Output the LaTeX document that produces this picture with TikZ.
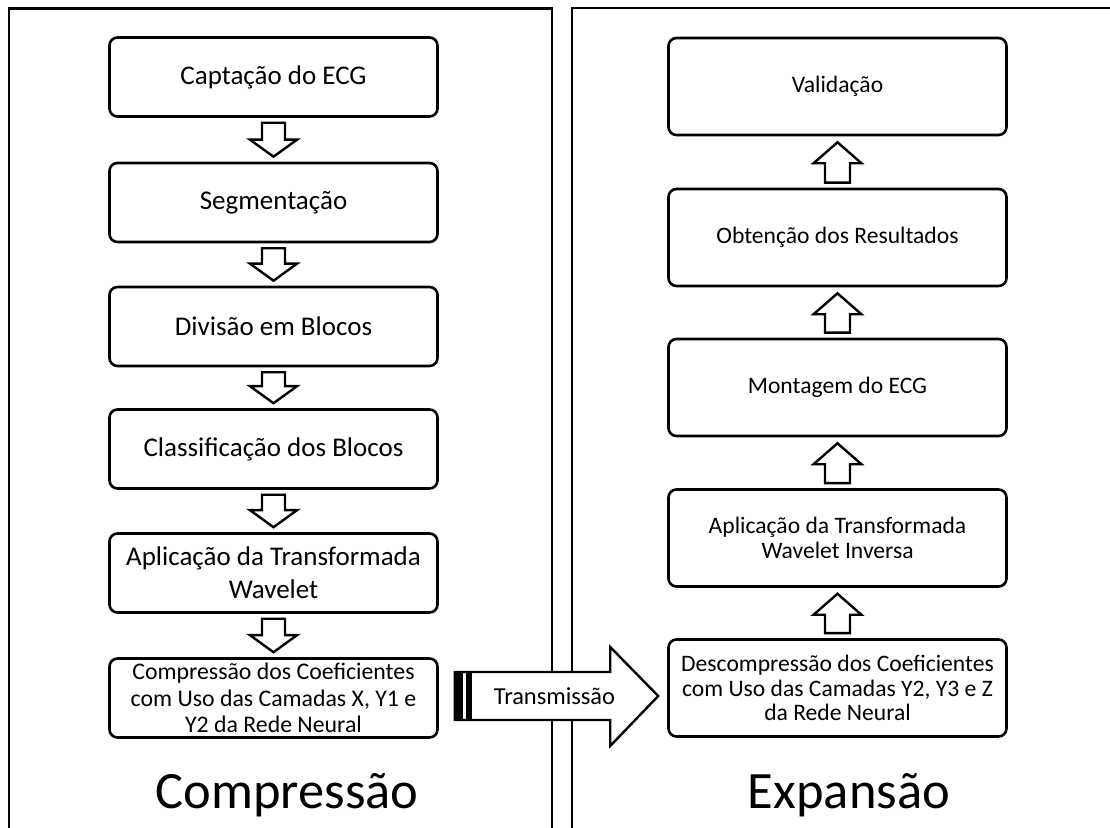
\documentclass[tikz,border=0pt]{standalone}
\usepackage{fontspec}
\setmainfont{Carlito}
\usetikzlibrary{calc, positioning}

\tikzset{
  stagebox/.style={draw, line width=2.6pt, rounded corners=8pt, align=center, inner sep=2pt},
  leftbox/.style={stagebox, minimum width=328pt, minimum height=79pt, font=\fontsize{27}{33}\selectfont},
  rightbox/.style={stagebox, minimum width=338pt, minimum height=97pt, font=\fontsize{23.6}{24.5}\selectfont},
  fat/.style={draw, fill=white, line width=2.4pt, line join=miter},
  panel/.style={line width=2.6pt},
}

% hollow block arrows between two stages
\newcommand{\downblock}[2]{%
  \draw[fat] ($(#1.south)+(-11.5,-5)$) -- ($(#2.north)+(-11.5,22)$) -- ($(#2.north)+(-23.5,22)$)
    -- ($(#2.north)+(0,5)$) -- ($(#2.north)+(23.5,22)$) -- ($(#2.north)+(11.5,22)$)
    -- ($(#1.south)+(11.5,-5)$) -- cycle;}
\newcommand{\upblock}[2]{%
  \draw[fat] ($(#1.north)+(-12.5,5)$) -- ($(#2.south)+(-12.5,-27)$) -- ($(#2.south)+(-24,-27)$)
    -- ($(#2.south)+(0,-6)$) -- ($(#2.south)+(24,-27)$) -- ($(#2.south)+(12.5,-27)$)
    -- ($(#1.north)+(12.5,5)$) -- cycle;}

\begin{document}
\begin{tikzpicture}[x=1pt, y=1pt]
  \useasboundingbox (0,0) rectangle (1110,827);

  % panels
  \draw[panel] (9,-5) -- (9,818.5) -- (552,818.5) -- (552,-5);
  \draw[panel] (572,-5) -- (572,819) -- (1115,819);

  % Compressao side
  \node[leftbox] (cap) at (273.5,750) {Captação do ECG};
  \node[leftbox] (seg) at (273.5,624.5) {Segmentação};
  \node[leftbox] (div) at (273.5,500.5) {Divisão em Blocos};
  \node[leftbox] (cls) at (273.5,378) {Classificação dos Blocos};
  \node[leftbox] (wav) at (273.5,254) {Aplicação da Transformada\\Wavelet};
  \node[leftbox, font=\fontsize{23.8}{26.5}\selectfont] (comp) at (273.5,129) {Compressão dos Coeficientes\\com Uso das Camadas X, Y1 e\\Y2 da Rede Neural};

  \downblock{cap}{seg}
  \downblock{seg}{div}
  \downblock{div}{cls}
  \downblock{cls}{wav}
  \downblock{wav}{comp}

  % Expansao side
  \node[rightbox] (val) at (837.5,740.5) {Validação};
  \node[rightbox] (res) at (837.5,589.5) {Obtenção dos Resultados};
  \node[rightbox] (mont) at (837.5,439.5) {Montagem do ECG};
  \node[rightbox] (inv) at (837.5,289) {Aplicação da Transformada\\Wavelet Inversa};
  \node[rightbox] (decomp) at (837.5,139) {Descompressão dos Coeficientes\\com Uso das Camadas Y2, Y3 e Z\\da Rede Neural};

  \upblock{decomp}{inv}
  \upblock{inv}{mont}
  \upblock{mont}{res}
  \upblock{res}{val}

  % transmission
  \coordinate (txtail) at ($(comp.east)+(16,2)$);
  \coordinate (txtip) at ($(decomp.west)+(-9,-8)$);
  \draw[fat] ($(txtail)+(0,24)$) -- ($(txtip)+(-48,24)$) -- ($(txtip)+(-48,49)$) -- (txtip)
    -- ($(txtip)+(-48,-50)$) -- ($(txtip)+(-48,-24)$) -- ($(txtail)+(0,-24)$) -- cycle;
  \fill ($(txtail)+(0,-24)$) rectangle ($(txtail)+(8,24)$);
  \fill ($(txtail)+(11.5,-24)$) rectangle ($(txtail)+(17,24)$);
  \node[font=\fontsize{24.4}{29}\selectfont] (tx) at ($(txtail)!0.49!(txtip)$) {Transmissão};

  % titles
  \node[font=\fontsize{52.5}{63}\selectfont] (lcomp) at (287,32) {Compressão};
  \node[font=\fontsize{52.5}{63}\selectfont] (lexp) at (849,32) {Expansão};
\end{tikzpicture}
\end{document}
